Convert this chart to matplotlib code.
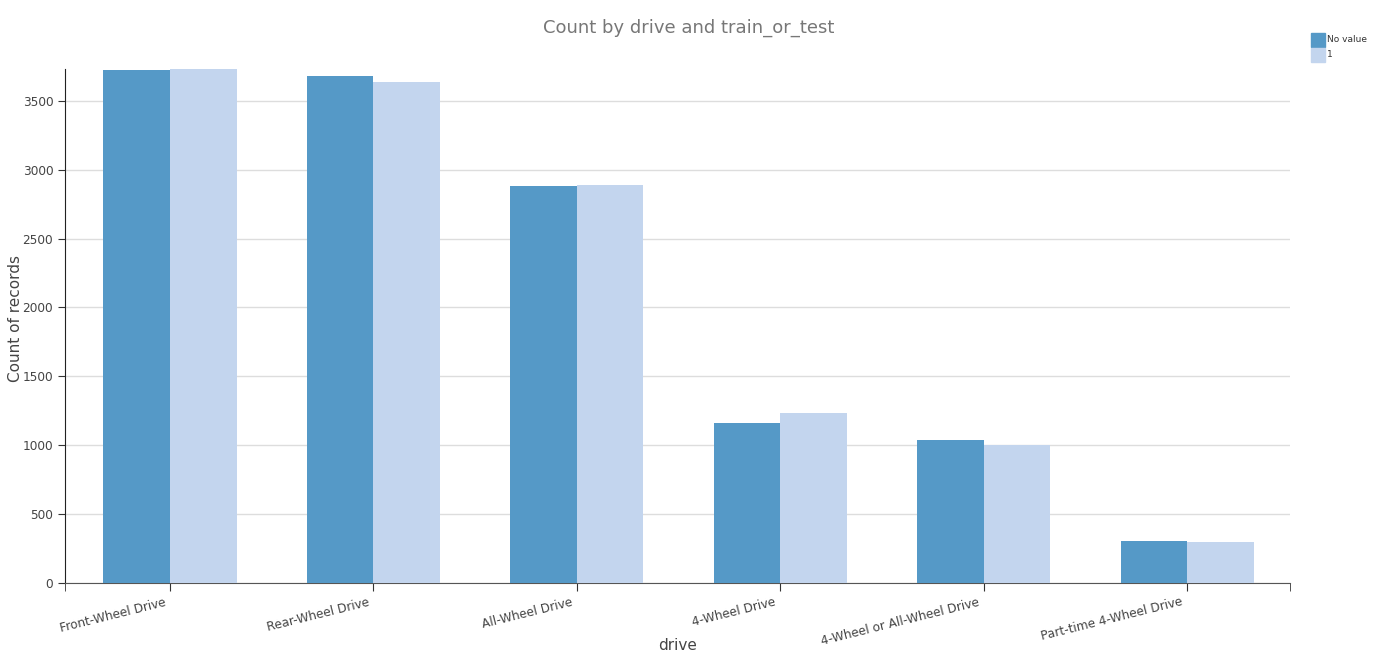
import numpy as np
import matplotlib
matplotlib.use('Agg')
import matplotlib.pyplot as plt
import matplotlib.transforms as mtransforms

# data
drives = ['Front-Wheel Drive', 'Rear-Wheel Drive', 'All-Wheel Drive',
          '4-Wheel Drive', '4-Wheel or All-Wheel Drive', 'Part-time 4-Wheel Drive']
no_value = [3725, 3680, 2882, 1164, 1036, 307]
one = [3730, 3637, 2886, 1234, 1002, 300]
series_names = ['No value', '1']

col_dark = '#5599C7'
col_light = '#C3D5EE'

fig = plt.figure(figsize=(13.78, 6.68), dpi=100)
ax = fig.add_axes([0.0472, 0.1272, 0.8889, 0.7695])

x = np.arange(len(drives))
w = 0.327
ax.bar(x - w / 2, no_value, width=w, color=col_dark, zorder=3)
ax.bar(x + w / 2, one, width=w, color=col_light, zorder=3)

ax.set_xlim(-0.516, 5.506)
ax.set_ylim(0, max(max(no_value), max(one)))
ax.set_yticks(np.arange(0, 3501, 500))
ax.yaxis.grid(True, color='#dddddd', linewidth=1, zorder=0)
ax.set_axisbelow(True)

ax.set_xticks(x)
ax.set_xticks([-0.516, 5.506], minor=True)
ax.set_xticklabels(drives, rotation=14, ha='right', rotation_mode='anchor',
                   fontsize=8.7, color='#444444')
ax.tick_params(axis='x', which='both', length=6, color='#333333', pad=3)
ax.tick_params(axis='y', length=5, color='#333333', labelsize=8.7, labelcolor='#444444')
# nudge the rotated labels a little left of their ticks
shift = mtransforms.ScaledTranslation(-6 / 100, 0, fig.dpi_scale_trans)
for lab in ax.get_xticklabels():
    lab.set_transform(lab.get_transform() + shift)

for side in ['top', 'right']:
    ax.spines[side].set_visible(False)
ax.spines['left'].set_color('#222222')
ax.spines['bottom'].set_color('#555555')

fig.text(678 / 1378, 1 - 645 / 668, 'drive', ha='center', va='center',
         fontsize=11, color='#444444')
fig.text(16 / 1378, 1 - 318 / 668, 'Count of records', ha='center', va='center',
         rotation=90, fontsize=11, color='#444444')

fig.text(0.5, 0.958, 'Count by drive and train_or_test', ha='center', va='center',
         fontsize=13, color='#777777')

# legend in the top right corner
for i, (name, c) in enumerate(zip(series_names, [col_dark, col_light])):
    y0 = 1 - (33 + i * 14.5) / 668
    fig.patches.append(plt.Rectangle((1311 / 1378, y0 - 14 / 668), 14 / 1378, 14 / 668,
                                     transform=fig.transFigure, color=c, figure=fig))
    fig.text(1327 / 1378, y0 - 7 / 668, name, fontsize=6.5, color='#333333', va='center')

fig.savefig('out.png', dpi=100)
